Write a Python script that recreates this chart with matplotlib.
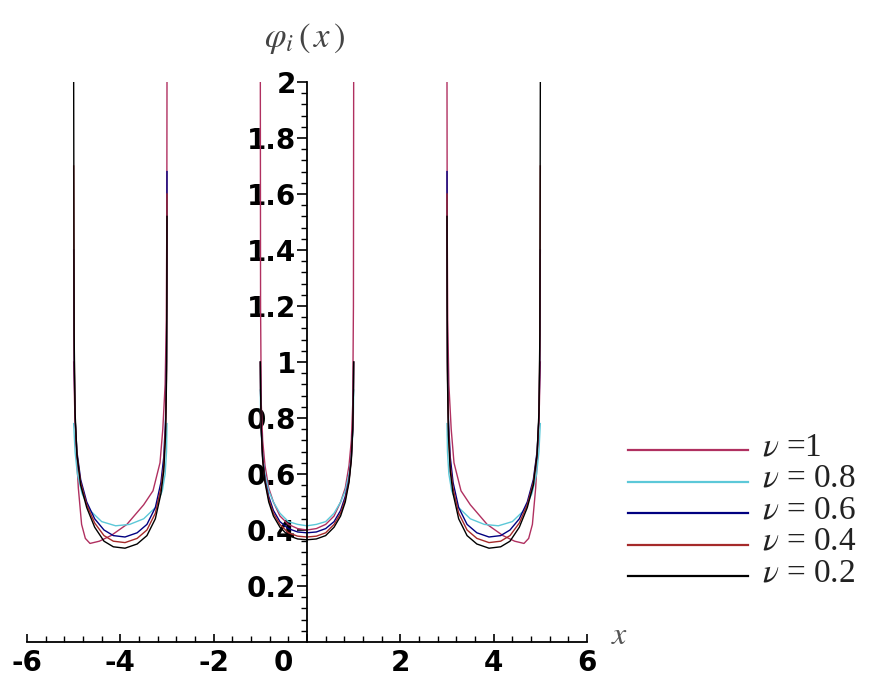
import matplotlib

matplotlib.use("Agg")
import matplotlib.pyplot as plt
import numpy as np
from matplotlib.transforms import ScaledTranslation

plt.rcParams["font.family"] = "DejaVu Sans"
plt.rcParams["mathtext.fontset"] = "stix"
plt.rcParams["axes.unicode_minus"] = False

# values; phi is even, so the left well mirrors the right one
NU = [1, 0.8, 0.6, 0.4, 0.2]
LABELS = ["$\\nu$ =1", "$\\nu$ = 0.8", "$\\nu$ = 0.6", "$\\nu$ = 0.4", "$\\nu$ = 0.2"]
COLORS = ["#B03060", "#5CC8D8", "#000080", "#A52A2A", "#000000"]

# right well, x in [3, 5]
X_R1 = [3.0, 3.004, 3.015, 3.04, 3.09, 3.15, 3.3, 3.5, 3.86, 4.2, 4.45, 4.65, 4.75,
        4.83, 4.9, 4.95, 4.98, 5.0]
Y_R1 = [2.0, 1.5, 1.15, 0.92, 0.76, 0.64, 0.54, 0.49, 0.42, 0.38, 0.36, 0.352, 0.37,
        0.42, 0.55, 0.7, 0.85, 1.0]
X_R08 = [3.0, 3.01, 3.04, 3.1, 3.25, 3.5, 3.8, 4.1, 4.4, 4.65, 4.82, 4.92, 4.97, 5.0]
Y_R08 = [0.78, 0.68, 0.60, 0.54, 0.48, 0.44, 0.42, 0.415, 0.43, 0.47, 0.53, 0.60, 0.68, 0.78]
X_RB = [3.0, 3.003, 3.01, 3.03, 3.07, 3.13, 3.25, 3.43, 3.64, 3.9, 4.15, 4.35, 4.55,
        4.72, 4.85, 4.93, 4.97, 4.99, 5.0]
Y_R06 = [1.68, 1.3, 1.0, 0.8, 0.66, 0.57, 0.48, 0.42, 0.39, 0.375, 0.38, 0.40, 0.44,
         0.50, 0.58, 0.68, 0.8, 1.0, 1.4]
Y_R04 = [1.6, 1.25, 0.97, 0.77, 0.63, 0.55, 0.46, 0.40, 0.37, 0.355, 0.36, 0.38, 0.425,
         0.49, 0.57, 0.67, 0.8, 1.05, 1.7]
Y_R02 = [1.52, 1.2, 0.94, 0.74, 0.61, 0.53, 0.44, 0.38, 0.35, 0.335, 0.34, 0.36, 0.41,
         0.48, 0.56, 0.67, 0.82, 1.1, 2.0]
RIGHT_X = [X_R1, X_R08, X_RB, X_RB, X_RB]
RIGHT_Y = [Y_R1, Y_R08, Y_R06, Y_R04, Y_R02]

# middle well, half of it: |x| in [0, 1]
T_M = [0.0, 0.2, 0.4, 0.58, 0.72, 0.82, 0.9, 0.95, 0.98, 0.995, 1.0]
MID_Y = [
    [0.40, 0.405, 0.42, 0.45, 0.5, 0.55, 0.63, 0.72, 0.85, 1.2, 2.0],
    [0.415, 0.42, 0.43, 0.46, 0.5, 0.54, 0.6, 0.66, 0.74, 0.82, 0.9],
    [0.39, 0.393, 0.405, 0.43, 0.47, 0.52, 0.58, 0.66, 0.76, 0.9, 1.0],
    [0.375, 0.378, 0.39, 0.42, 0.46, 0.51, 0.575, 0.655, 0.76, 0.9, 1.0],
    [0.365, 0.368, 0.38, 0.41, 0.45, 0.50, 0.57, 0.65, 0.76, 0.9, 1.0],
]

XTICKS = [-6, -4, -2, 0, 2, 4, 6]
YTICKS = [0.2, 0.4, 0.6, 0.8, 1.0, 1.2, 1.4, 1.6, 1.8, 2.0]
YTICK_LABELS = ["0.2", "0.4", "0.6", "0.8", "1", "1.2", "1.4", "1.6", "1.8", "2"]

W, H = 884, 691
fig = plt.figure(figsize=(W / 100, H / 100), dpi=100, facecolor="white")
# axes box in pixels: x -6..6 -> 27..587, y 0..2 -> 642..82
ax = fig.add_axes([27 / W, (H - 642) / H, 560 / W, 560 / H])
ax.set_xlim(-6, 6)
ax.set_ylim(0, 2)

for i, nu in enumerate(NU):
    xr = np.array(RIGHT_X[i])
    yr = np.array(RIGHT_Y[i])
    t = np.array(T_M)
    ym = np.array(MID_Y[i])
    kw = dict(color=COLORS[i], lw=1.0, solid_joinstyle="round")
    ax.plot(xr, yr, **kw)
    ax.plot(-xr, yr, **kw)
    ax.plot(np.concatenate([-t[::-1], t]), np.concatenate([ym[::-1], ym]), **kw)

for s in ("top", "right"):
    ax.spines[s].set_visible(False)
ax.spines["left"].set_position(("data", 0))
ax.spines["bottom"].set_position(("data", 0))
for s in ("left", "bottom"):
    ax.spines[s].set_linewidth(1.3)

ax.set_xticks(XTICKS)
ax.set_xticks(np.arange(-6, 6.01, 0.4), minor=True)
ax.set_yticks(YTICKS)
ax.set_yticks(np.arange(0.04, 2.001, 0.04), minor=True)
ax.set_yticklabels(YTICK_LABELS)
ax.tick_params(axis="x", which="major", direction="in", length=6, width=1.2, pad=5)
ax.tick_params(axis="x", which="minor", direction="in", length=4, width=1.0)
ax.tick_params(axis="y", which="major", direction="out", length=7, width=1.2, pad=1)
ax.tick_params(axis="y", which="minor", direction="out", length=4, width=1.0)
for lab in ax.get_xticklabels() + ax.get_yticklabels():
    lab.set_fontsize(20)
    lab.set_fontweight("heavy")
# Maple shifts the "0" label off the vertical axis
for lab in ax.get_xticklabels():
    if lab.get_text() == "0":
        lab.set_transform(lab.get_transform() + ScaledTranslation(-0.24, 0, fig.dpi_scale_trans))

# overlay in pixel coordinates for the labels and the legend
lax = fig.add_axes([0, 0, 1, 1], zorder=-1)
lax.set_xlim(0, W)
lax.set_ylim(H, 0)
lax.axis("off")

lax.text(305, 38, "$\\varphi_{i}\\,\\left(\\,x\\,\\right)$", fontsize=25, color="#444444",
         ha="center", va="center")
lax.text(197, 370, "y", fontsize=19, fontweight="bold", ha="center", va="center")
lax.text(620, 636, "$x$", fontsize=23, color="#555555", ha="center", va="center")

for i, nu in enumerate(NU):
    yy = 447 + 31.5 * i
    lax.plot([628, 748], [yy + 3, yy + 3], color=COLORS[i], lw=1.6)
    lax.text(762, yy, LABELS[i], fontsize=24, family="Liberation Serif",
             color="#222222", ha="left", va="center")

fig.savefig("out.png", dpi=100, facecolor="white")
